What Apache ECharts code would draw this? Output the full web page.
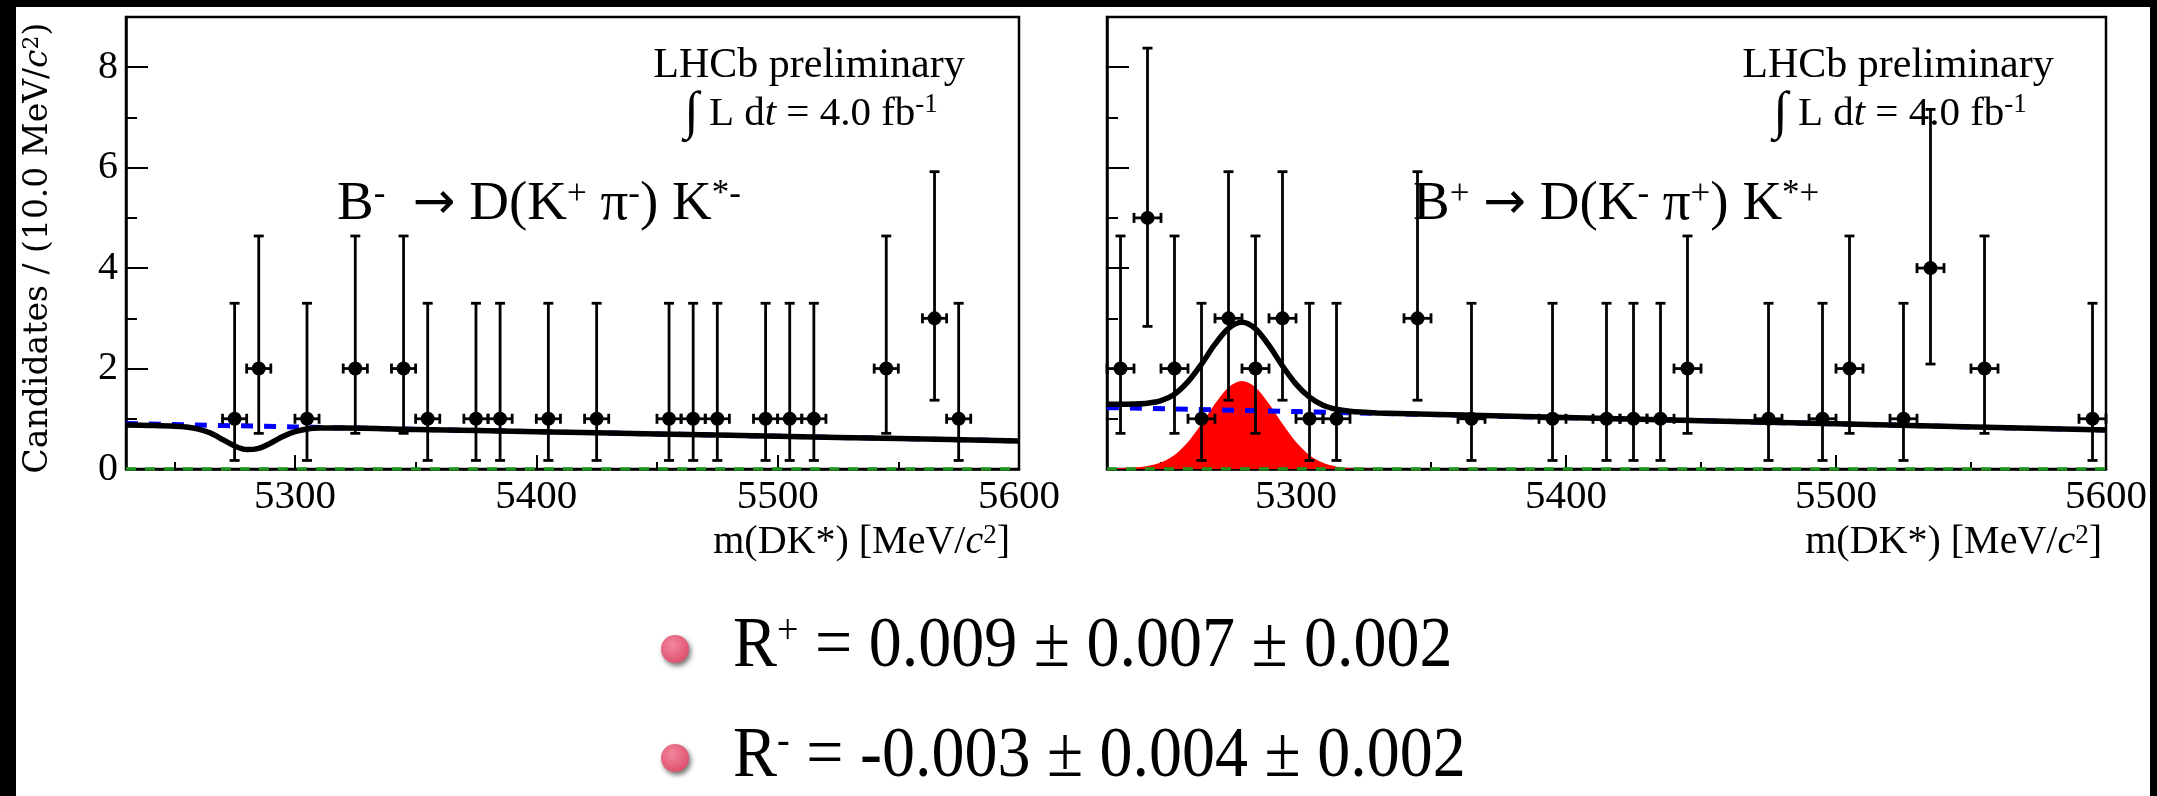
<!DOCTYPE html>
<html><head><meta charset="utf-8">
<script src="https://cdn.jsdelivr.net/npm/echarts@6/dist/echarts.min.js"></script>
<style>html,body{margin:0;padding:0;background:#000;overflow:hidden}#c{width:2157px;height:796px}</style>
</head><body><div id="c"></div>
<script>
// ---------- axes ----------
const xMin = 5230, xMax = 5600;
const xTickLabels = [5300, 5400, 5500, 5600];
const xMinorTicks = [5250, 5350, 5450, 5550];
const yMin = 0, yMax = 9;
const yTickLabels = [0, 2, 4, 6, 8];
const yMinorTicks = [1, 3, 5, 7];
const binHalfWidth = 5; // 10 MeV bins

// ---------- B- panel (left) ----------
const minusMass   = [5275,5285,5305,5325,5345,5355,5375,5385,5405,5425,5455,5465,5475,5495,5505,5515,5545,5565,5575];
const minusCounts = [1,2,1,2,2,1,1,1,1,1,1,1,1,1,1,1,2,3,1];
const minusErrLow = [0.83,1.29,0.83,1.29,1.29,0.83,0.83,0.83,0.83,0.83,0.83,0.83,0.83,0.83,0.83,0.83,1.29,1.63,0.83];
const minusErrHigh= [2.30,2.64,2.30,2.64,2.64,2.30,2.30,2.30,2.30,2.30,2.30,2.30,2.30,2.30,2.30,2.30,2.64,2.92,2.30];
const minusFitMass  = [5230,5240,5250,5255,5260,5265,5270,5275,5280,5285,5290,5295,5300,5305,5310,5320,5350,5400,5450,5500,5550,5600];
const minusFitTotal = [0.875,0.866,0.853,0.835,0.795,0.715,0.588,0.458,0.386,0.412,0.518,0.647,0.743,0.796,0.815,0.816,0.788,0.744,0.698,0.652,0.606,0.56];
const minusBkgMass = [5230,5300,5400,5500,5600];
const minusBkg     = [0.905,0.838,0.744,0.652,0.56];

// ---------- B+ panel (right) ----------
const plusMass   = [5235,5245,5255,5265,5275,5285,5295,5305,5315,5345,5365,5395,5415,5425,5435,5445,5475,5495,5505,5525,5535,5555,5595];
const plusCounts = [2,5,2,1,3,2,3,1,1,3,1,1,1,1,1,2,1,1,2,1,4,2,1];
const plusErrLow = [1.29,2.16,1.29,0.83,1.63,1.29,1.63,0.83,0.83,1.63,0.83,0.83,0.83,0.83,0.83,1.29,0.83,0.83,1.29,0.83,1.91,1.29,0.83];
const plusErrHigh= [2.64,3.38,2.64,2.30,2.92,2.64,2.92,2.30,2.30,2.92,2.30,2.30,2.30,2.30,2.30,2.64,2.30,2.30,2.64,2.30,3.16,2.64,2.30];
const plusFitMass  = [5230,5235,5240,5245,5250,5255,5260,5265,5270,5275,5280,5285,5290,5295,5300,5305,5310,5315,5320,5325,5330,5400,5500,5600];
const plusFitTotal = [1.29,1.29,1.295,1.31,1.36,1.49,1.74,2.09,2.485,2.80,2.92,2.79,2.46,2.05,1.69,1.43,1.27,1.19,1.15,1.13,1.115,1.024,0.900,0.776];
const plusSignalMass = [5230,5235,5240,5245,5250,5255,5260,5265,5270,5275,5280,5285,5290,5295,5300,5305,5310,5315,5320,5325,5330];
const plusSignal     = [0.01,0.02,0.03,0.06,0.13,0.28,0.54,0.90,1.30,1.625,1.75,1.625,1.30,0.899,0.536,0.275,0.122,0.047,0.015,0.004,0.001];
const plusBkgMass = [5230,5300,5400,5500,5600];
const plusBkg     = [1.222,1.143,1.022,0.899,0.776];

const zeroMass = [5230, 5600];
const zeroVal  = [0, 0];

// ---------- helpers ----------
const zip = (a, b) => a.map((v, i) => [v, b[i]]);
const pts = (m, n, lo, hi) => m.map((v, i) => [v, n[i], lo[i], hi[i]]);
const SERIF = '"Liberation Serif", "Times New Roman", serif';

function renderPoint(params, api) {
  const m = api.value(0), n = api.value(1), lo = api.value(2), hi = api.value(3);
  const c = api.coord([m, n]);
  const top = api.coord([m, n + hi]);
  const bot = api.coord([m, n - lo]);
  const l = api.coord([m - binHalfWidth, n]);
  const r = api.coord([m + binHalfWidth, n]);
  const st = {stroke: '#000', lineWidth: 2.8};
  const cap = 5;
  return {type: 'group', children: [
    {type: 'line', shape: {x1: c[0], y1: top[1], x2: c[0], y2: bot[1]}, style: st},
    {type: 'line', shape: {x1: c[0]-cap, y1: top[1], x2: c[0]+cap, y2: top[1]}, style: st},
    {type: 'line', shape: {x1: c[0]-cap, y1: bot[1], x2: c[0]+cap, y2: bot[1]}, style: st},
    {type: 'line', shape: {x1: l[0], y1: c[1], x2: r[0], y2: c[1]}, style: st},
    {type: 'line', shape: {x1: l[0], y1: c[1]-cap, x2: l[0], y2: c[1]+cap}, style: st},
    {type: 'line', shape: {x1: r[0], y1: c[1]-cap, x2: r[0], y2: c[1]+cap}, style: st},
    {type: 'circle', shape: {cx: c[0], cy: c[1], r: 7}, style: {fill: '#000'}}
  ]};
}

const grids = [
  {left: 126, top: 17, width: 893, height: 452},
  {left: 1107, top: 17, width: 999, height: 452}
].map(g => Object.assign(g, {show: true, borderColor: '#000', borderWidth: 2.5, backgroundColor: 'transparent', containLabel: false}));

const xAxes = [], yAxes = [];
[0, 1].forEach(i => {
  xAxes.push({
    gridIndex: i, type: 'value', min: xMin, max: xMax, position: 'bottom',
    axisLine: {show: true, onZero: false, lineStyle: {color: '#000', width: 2.5}},
    axisTick: {show: true, inside: true, length: 14, customValues: xTickLabels, lineStyle: {color: '#000', width: 2}},
    axisLabel: {show: true, customValues: xTickLabels, formatter: v => String(v), color: '#000',
      fontFamily: SERIF, fontSize: 41, margin: 8},
    splitLine: {show: false}
  });
  xAxes.push({
    gridIndex: i, type: 'value', min: xMin, max: xMax, position: 'bottom',
    axisLine: {show: false},
    axisTick: {show: true, inside: true, length: 7, customValues: xMinorTicks, lineStyle: {color: '#000', width: 2}},
    axisLabel: {show: false}, splitLine: {show: false}
  });
  yAxes.push({
    gridIndex: i, type: 'value', min: yMin, max: yMax, position: 'left',
    axisLine: {show: true, onZero: false, lineStyle: {color: '#000', width: 2.5}},
    axisTick: {show: true, inside: true, length: 22, customValues: yTickLabels, lineStyle: {color: '#000', width: 2}},
    axisLabel: {show: i === 0, customValues: yTickLabels, formatter: v => String(v), color: '#000',
      fontFamily: SERIF, fontSize: 40, margin: 8},
    splitLine: {show: false}
  });
  yAxes.push({
    gridIndex: i, type: 'value', min: yMin, max: yMax, position: 'left',
    axisLine: {show: false},
    axisTick: {show: true, inside: true, length: 11, customValues: yMinorTicks, lineStyle: {color: '#000', width: 2}},
    axisLabel: {show: false}, splitLine: {show: false}
  });
});

function lineSeries(i, data, style, extra) {
  return Object.assign({
    type: 'line', xAxisIndex: 2*i, yAxisIndex: 2*i, data: data, showSymbol: false,
    smooth: 0.3, lineStyle: style, silent: true, animation: false
  }, extra || {});
}
const blackStyle = {color: '#000', width: 5.5};
const blueStyle = {color: '#0000ff', width: 5, type: [12, 11]};
const greenStyle = {color: '#1e961e', width: 3.5, type: [10, 9]};

const series = [
  // left panel
  lineSeries(0, zip(zeroMass, zeroVal), greenStyle, {z: 3}),
  lineSeries(0, zip(minusBkgMass, minusBkg), blueStyle, {z: 4}),
  lineSeries(0, zip(minusFitMass, minusFitTotal), blackStyle, {z: 5}),
  {type: 'custom', xAxisIndex: 0, yAxisIndex: 0, renderItem: renderPoint, z: 6, animation: false,
   encode: {x: 0, y: 1}, data: pts(minusMass, minusCounts, minusErrLow, minusErrHigh)},
  // right panel
  lineSeries(1, zip(plusSignalMass, plusSignal), {width: 0, color: '#ff0000'}, {z: 2, areaStyle: {color: '#ff0000', opacity: 1}}),
  lineSeries(1, zip(zeroMass, zeroVal), greenStyle, {z: 3}),
  lineSeries(1, zip(plusBkgMass, plusBkg), blueStyle, {z: 4}),
  lineSeries(1, zip(plusFitMass, plusFitTotal), blackStyle, {z: 5}),
  {type: 'custom', xAxisIndex: 2, yAxisIndex: 2, renderItem: renderPoint, z: 6, animation: false,
   encode: {x: 0, y: 1}, data: pts(plusMass, plusCounts, plusErrLow, plusErrHigh)}
];

// ---------- texts ----------
function txt(x, y, text, rich, align, extra) {
  return Object.assign({
    type: 'text', x: x, y: y, silent: true,
    style: {text: text, rich: rich, align: align || 'left', verticalAlign: 'middle', fill: '#000'}
  }, extra || {});
}
// main tokens get lineHeight = font size; superscripts a small lineHeight + verticalAlign top => raised
function mk(ff, fs, extra) { return Object.assign({fontFamily: ff, fontSize: fs, lineHeight: fs, fill: '#000'}, extra || {}); }
function sup(ff, fs, lh) { return {fontFamily: ff, fontSize: fs, lineHeight: lh, fill: '#000', verticalAlign: 'top'}; }
const DV = '"DejaVu Serif", serif';
const lhcbRich = {m: mk(SERIF, 42)};
const lumiRich = {
  i: mk(SERIF, 53, {lineHeight: 45}),
  m: mk(SERIF, 41, {lineHeight: 45}),
  it: mk(SERIF, 41, {lineHeight: 45, fontStyle: 'italic'}),
  s: sup(SERIF, 27, 20)
};
const decayRich = {
  m: mk(SERIF, 55),
  ar: mk('"DejaVu Sans", sans-serif', 51, {lineHeight: 55}),
  s: sup(SERIF, 35, 24),
  ss: sup(SERIF, 35, 8)
};
const xTitleRich = {
  m: mk(SERIF, 40),
  it: mk(SERIF, 40, {fontStyle: 'italic'}),
  s: sup(SERIF, 27, 16)
};
const yTitleRich = {
  m: mk(DV, 33),
  it: mk(DV, 33, {fontStyle: 'italic'}),
  s: sup(DV, 22, 12)
};
const rRich = {
  m: mk(SERIF, 66),
  s: sup(SERIF, 38, 30)
};
const bulletFill = {type: 'radial', x: 0.4, y: 0.35, r: 0.7,
  colorStops: [{offset: 0, color: '#f4869c'}, {offset: 1, color: '#dc4f6c'}]};

const graphics = [
  {type: 'rect', z: -10, silent: true, shape: {x: 16, y: 7, width: 2134, height: 789}, style: {fill: '#fff'}},
  txt(38, 248, '{m|Candidates / (10.0 MeV/}{it|c}{s|2}{m|)}', yTitleRich, 'center', {rotation: Math.PI / 2}),
  // left panel labels
  txt(809, 66, '{m|LHCb preliminary}', lhcbRich, 'center'),
  txt(811, 114, '{i|∫}{m| L d}{it|t}{m| = 4.0 fb}{s|-1}', lumiRich, 'center'),
  txt(337, 205, '{m|B}{s|-}{m|  }{ar|→}{m| D(K}{s|+}{m| π}{s|-}{m|) K}{ss|*-}', decayRich, 'left'),
  txt(1010, 542, '{m|m(DK*) [MeV/}{it|c}{s|2}{m|]}', xTitleRich, 'right'),
  // right panel labels
  txt(1898, 66, '{m|LHCb preliminary}', lhcbRich, 'center'),
  txt(1900, 114, '{i|∫}{m| L d}{it|t}{m| = 4.0 fb}{s|-1}', lumiRich, 'center'),
  txt(1413, 205, '{m|B}{s|+}{m| }{ar|→}{m| D(K}{s|-}{m| π}{s|+}{m|) K}{ss|*+}', decayRich, 'left'),
  txt(2102, 542, '{m|m(DK*) [MeV/}{it|c}{s|2}{m|]}', xTitleRich, 'right'),
  // results
  {type: 'circle', silent: true, shape: {cx: 675, cy: 649, r: 14},
   style: {fill: bulletFill, shadowBlur: 5, shadowOffsetX: 2, shadowOffsetY: 3, shadowColor: 'rgba(0,0,0,0.55)'}},
  {type: 'circle', silent: true, shape: {cx: 675, cy: 758, r: 14},
   style: {fill: bulletFill, shadowBlur: 5, shadowOffsetX: 2, shadowOffsetY: 3, shadowColor: 'rgba(0,0,0,0.55)'}},
  txt(733, 647, '{m|R}{s|+}{m| = 0.009 ± 0.007 ± 0.002}', rRich, 'left', {scaleY: 1.1}),
  txt(733, 757, '{m|R}{s|-}{m| = -0.003 ± 0.004 ± 0.002}', rRich, 'left', {scaleY: 1.1})
];

const chart = echarts.init(document.getElementById('c'), null, {renderer: 'canvas', width: 2157, height: 796});
chart.setOption({
  backgroundColor: 'transparent',
  animation: false,
  grid: grids,
  xAxis: xAxes,
  yAxis: yAxes,
  series: series,
  graphic: graphics
});
</script>
</body></html>
